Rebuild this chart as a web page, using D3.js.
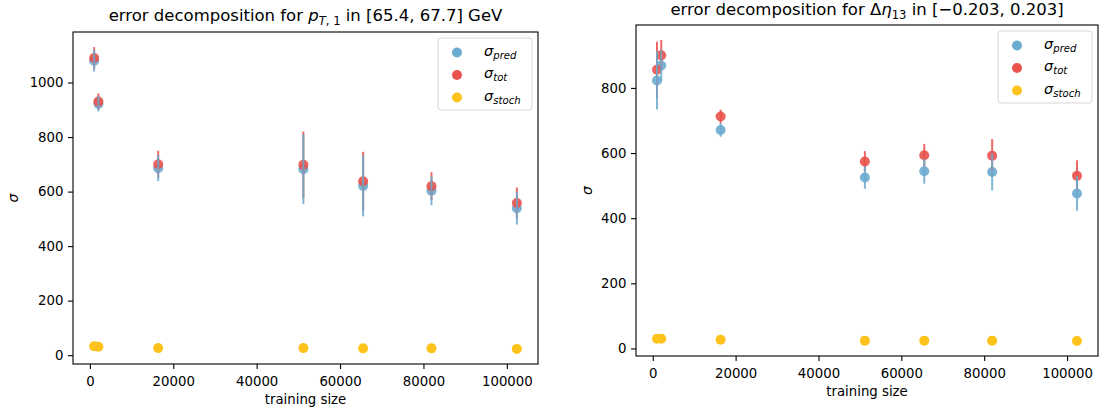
<!DOCTYPE html>
<html>
<head>
<meta charset="utf-8">
<title>error decomposition</title>
<script src="https://d3js.org/d3.v7.min.js"></script>
<style>
  body { margin: 0; background: #fff; }
  svg text { font-family: "DejaVu Sans", sans-serif; fill: #000; }
</style>
</head>
<body>
<div id="canvas"></div>
<script>
// training sizes (same for both panels)
var trainSizes = [1024, 2048, 16384, 51200, 65536, 81920, 102400];

// p_T,1 bin
var ptPred     = [1080, 922, 686, 682, 621, 603, 539];
var ptPredErr  = [40, 28, 48, 128, 112, 53, 60];
var ptTot      = [1090, 930, 700, 698, 638, 620, 558];
var ptTotErr   = [40, 30, 50, 122, 108, 51, 57];
var ptStoch    = [33, 31, 26, 26, 25, 25, 23];

// Delta eta_13 bin
var etaPred    = [823, 869, 671, 525, 544, 542, 476];
var etaPredErr = [89, 48, 21, 35, 38, 57, 53];
var etaTot     = [856, 900, 712, 574, 593, 592, 530];
var etaTotErr  = [86, 47, 21, 32, 35, 51, 48];
var etaStoch   = [30, 30, 27, 24, 24, 24, 23];

var xTicks    = [0, 20000, 40000, 60000, 80000, 100000];
var ptYTicks  = [0, 200, 400, 600, 800, 1000];
var etaYTicks = [0, 200, 400, 600, 800];

var colPred = "#6aabd0", colTot = "#e9524d", colStoch = "#fdc31c";

var svg = d3.select("#canvas").append("svg")
    .attr("width", 1105)
    .attr("height", 412);

// write a list of runs {t, it, sub} into a text element
function addRuns(text, runs, base) {
    var shift = 0;
    runs.forEach(function(r) {
        var want = r.sub ? base * 0.24 : 0;
        text.append("tspan")
            .attr("dy", want - shift)
            .style("font-size", (r.sub ? base * 0.7 : base) + "px")
            .style("font-style", r.it ? "italic" : "normal")
            .text(r.t);
        shift = want;
    });
}

function pad(lo, hi) {
    var m = (hi - lo) * 0.05;
    return [lo - m, hi + m];
}

function drawPanel(p) {
    var g = svg.append("g");

    var xd = pad(d3.min(trainSizes), d3.max(trainSizes));
    var lows = p.pred.map(function(v, i) { return v - p.predErr[i]; })
        .concat(p.tot.map(function(v, i) { return v - p.totErr[i]; }), p.stoch);
    var highs = p.pred.map(function(v, i) { return v + p.predErr[i]; })
        .concat(p.tot.map(function(v, i) { return v + p.totErr[i]; }), p.stoch);
    var yd = pad(d3.min(lows), d3.max(highs));

    var x = d3.scaleLinear().domain(xd).range([p.left, p.right]);
    var y = d3.scaleLinear().domain(yd).range([p.bottom, p.top]);

    // axes
    var xa = g.append("g")
        .attr("transform", "translate(0," + p.bottom + ")")
        .call(d3.axisBottom(x).tickValues(xTicks).tickSize(5).tickSizeOuter(0)
            .tickPadding(7.5).tickFormat(d3.format("d")));
    var ya = g.append("g")
        .attr("transform", "translate(" + p.left + ",0)")
        .call(d3.axisLeft(y).tickValues(p.yTicks).tickSize(5).tickSizeOuter(0)
            .tickPadding(4.5).tickFormat(d3.format("d")));
    [xa, ya].forEach(function(a) {
        a.select(".domain").remove();
        a.selectAll(".tick line").attr("stroke", "#000").attr("stroke-width", 1.1);
        a.selectAll(".tick text")
            .attr("fill", "#000")
            .style("font-family", "DejaVu Sans")
            .style("font-size", "13.3px");
    });

    var rows = trainSizes.map(function(s, i) {
        return { s: s, pred: p.pred[i], pe: p.predErr[i], tot: p.tot[i], te: p.totErr[i], st: p.stoch[i] };
    });

    // markers
    g.selectAll(".mpred").data(rows).enter().append("circle")
        .attr("cx", function(d) { return x(d.s); })
        .attr("cy", function(d) { return y(d.pred); })
        .attr("r", 5).attr("fill", colPred).attr("opacity", 0.9);
    g.selectAll(".mtot").data(rows).enter().append("circle")
        .attr("cx", function(d) { return x(d.s); })
        .attr("cy", function(d) { return y(d.tot); })
        .attr("r", 5).attr("fill", colTot).attr("opacity", 0.9);

    // error bars
    g.selectAll(".btot").data(rows).enter().append("line")
        .attr("x1", function(d) { return x(d.s); })
        .attr("x2", function(d) { return x(d.s); })
        .attr("y1", function(d) { return y(d.tot - d.te); })
        .attr("y2", function(d) { return y(d.tot + d.te); })
        .attr("stroke", colTot).attr("stroke-width", 2).attr("opacity", 0.85);
    g.selectAll(".bpred").data(rows).enter().append("line")
        .attr("x1", function(d) { return x(d.s); })
        .attr("x2", function(d) { return x(d.s); })
        .attr("y1", function(d) { return y(d.pred - d.pe); })
        .attr("y2", function(d) { return y(d.pred + d.pe); })
        .attr("stroke", colPred).attr("stroke-width", 2).attr("opacity", 0.85);

    g.selectAll(".mstoch").data(rows).enter().append("circle")
        .attr("cx", function(d) { return x(d.s); })
        .attr("cy", function(d) { return y(d.st); })
        .attr("r", 5).attr("fill", colStoch);

    // frame
    g.append("rect")
        .attr("x", p.left).attr("y", p.top)
        .attr("width", p.right - p.left).attr("height", p.bottom - p.top)
        .attr("fill", "none").attr("stroke", "#000").attr("stroke-width", 1.1);

    // title
    var t = g.append("text")
        .attr("x", (p.left + p.right) / 2).attr("y", p.titleY)
        .attr("text-anchor", "middle");
    addRuns(t, p.title, 16.5);

    // axis labels
    g.append("text")
        .attr("x", (p.left + p.right) / 2).attr("y", p.bottom + 40)
        .attr("text-anchor", "middle")
        .style("font-size", "13.3px")
        .text("training size");
    g.append("text")
        .attr("transform", "translate(" + p.ylabX + "," + ((p.top + p.bottom) / 2) + ") rotate(-90)")
        .attr("text-anchor", "middle")
        .style("font-size", "14px").style("font-style", "italic")
        .text("σ");

    // legend
    var lw = 94, lh = 72;
    var lx = p.right - 6 - lw, ly = p.top + 6;
    var lg = g.append("g").attr("transform", "translate(" + lx + "," + ly + ")");
    lg.append("rect")
        .attr("width", lw).attr("height", lh).attr("rx", 3)
        .attr("fill", "#fff").attr("fill-opacity", 0.8)
        .attr("stroke", "#d6d6d6").attr("stroke-width", 1);
    var entries = [["pred", colPred], ["tot", colTot], ["stoch", colStoch]];
    entries.forEach(function(e, i) {
        var cy = 14.5 + i * 22.5;
        lg.append("circle").attr("cx", 19).attr("cy", cy).attr("r", 5).attr("fill", e[1]);
        var tx = lg.append("text").attr("x", 46).attr("y", cy + 3);
        addRuns(tx, [{ t: "σ", it: true }, { t: e[0], it: true, sub: true }], 14.5);
    });
}

drawPanel({
    left: 73, right: 538, top: 32, bottom: 364,
    pred: ptPred, predErr: ptPredErr, tot: ptTot, totErr: ptTotErr, stoch: ptStoch,
    yTicks: ptYTicks, titleY: 21, ylabX: 18,
    title: [
        { t: "error decomposition for " },
        { t: "p", it: true },
        { t: "T", it: true, sub: true },
        { t: ", 1", sub: true },
        { t: " in [65.4, 67.7] GeV" }
    ]
});

drawPanel({
    left: 636, right: 1098, top: 25, bottom: 356,
    pred: etaPred, predErr: etaPredErr, tot: etaTot, totErr: etaTotErr, stoch: etaStoch,
    yTicks: etaYTicks, titleY: 15, ylabX: 592,
    title: [
        { t: "error decomposition for Δ" },
        { t: "η", it: true },
        { t: "13", sub: true },
        { t: " in [−0.203, 0.203]" }
    ]
});
</script>
</body>
</html>
